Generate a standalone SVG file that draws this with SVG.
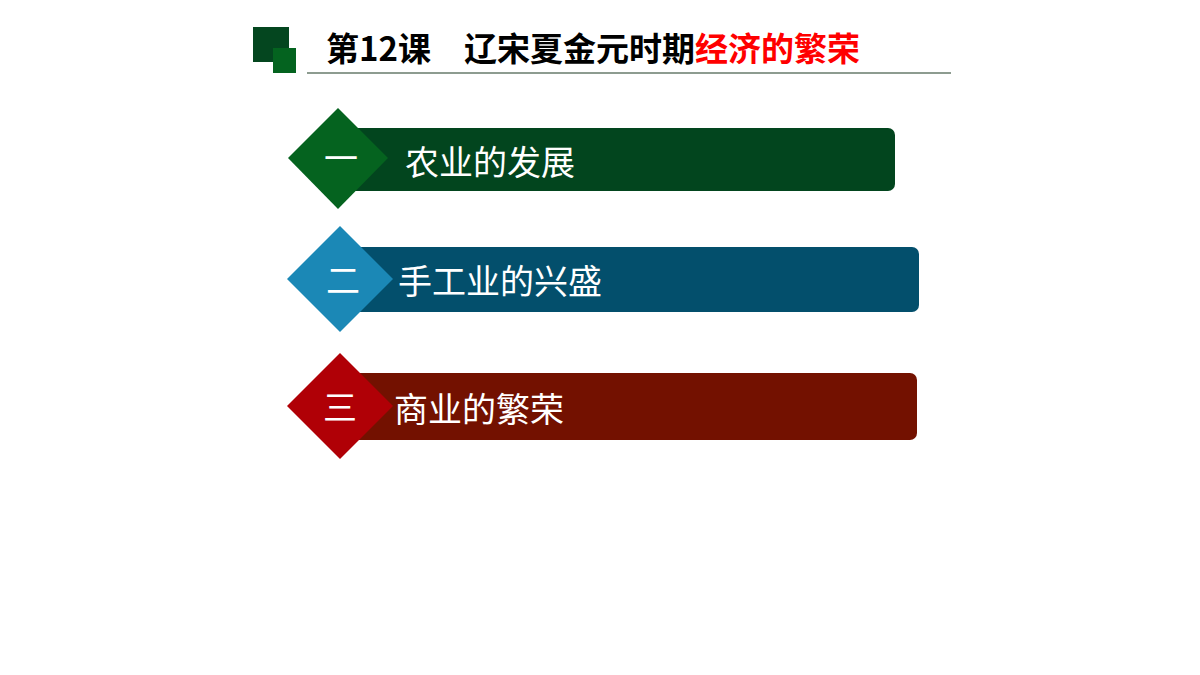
<svg xmlns="http://www.w3.org/2000/svg" width="1200" height="675" viewBox="0 0 1200 675">
<style>
.t{font-family:"Noto Sans CJK SC","Liberation Sans",sans-serif;fill:#fff;font-size:34px}
.h{font-family:"Noto Sans CJK SC","Liberation Sans",sans-serif;font-weight:bold;font-size:33px}
</style>
<rect width="1200" height="675" fill="#fff"/>
<g id="title">
<rect x="253" y="27" width="36" height="35" fill="#04461f"/>
<rect x="273" y="48" width="23" height="25" fill="#04631f"/>
<line x1="307" y1="73" x2="951" y2="73" stroke="#1c3a22" stroke-width="1.2"/>
<text class="h" x="326" y="61" fill="#000">第12课　辽宋夏金元时期<tspan fill="#ff0000">经济的繁荣</tspan></text>
</g>
<g id="item1">
<rect x="340" y="128" width="555" height="63" rx="7" fill="#02451e"/>
<polygon points="338,108 388,158 338,209 288,158" fill="#05631f"/>
<text class="t" x="324" y="171">一</text>
<text class="t" x="405" y="175">农业的发展</text>
</g>
<g id="item2">
<rect x="350" y="247" width="569" height="65" rx="7" fill="#034f6c"/>
<polygon points="340,226 393,279 340,332 287,279" fill="#1b88b6"/>
<text class="t" x="326" y="293">二</text>
<text class="t" x="398" y="294">手工业的兴盛</text>
</g>
<g id="item3">
<rect x="350" y="373" width="567" height="67" rx="7" fill="#731100"/>
<polygon points="340,353 393,406 340,459 287,406" fill="#b00006"/>
<text class="t" x="323" y="420">三</text>
<text class="t" x="394" y="422">商业的繁荣</text>
</g>
<g id="connectors"/>
</svg>
